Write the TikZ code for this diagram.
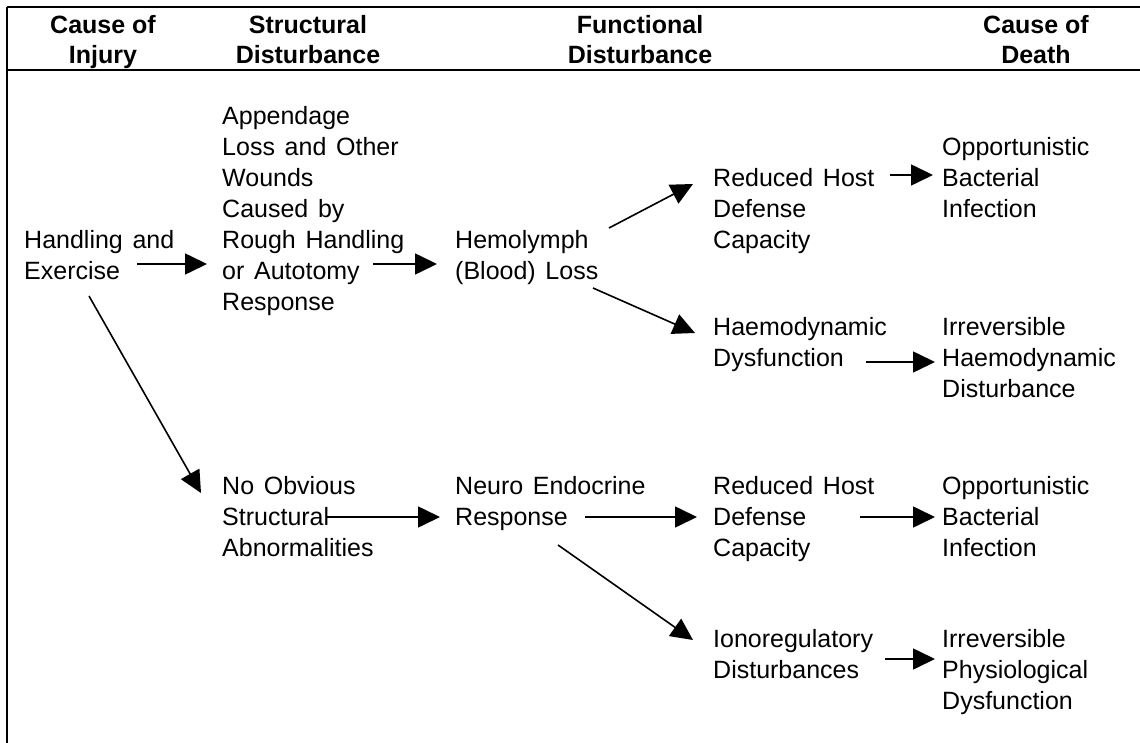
\documentclass[tikz,border=0pt]{standalone}
\usepackage{fontspec}
\setmainfont{Liberation Sans}[WordSpace=1.4]
\newfontfamily\hdrfont{Liberation Sans}
\usetikzlibrary{arrows.meta}
\tikzset{
  txt/.style={anchor=north west, align=left, inner sep=0pt, font=\fontsize{25}{31}\selectfont},
  hdr/.style={anchor=north, align=center, inner sep=0pt, font=\hdrfont\fontsize{25}{30}\selectfont\bfseries},
  arr/.style={line width=1.6pt, -{Triangle[length=22pt,width=21pt]}},
  rule/.style={line width=1.8pt}
}
\begin{document}
\begin{tikzpicture}[x=1pt,y=-1pt]
\useasboundingbox (0,0) rectangle (1140,743);
% frame
\draw[rule] (7,7) -- (1140,7);
\draw[rule] (7,70) -- (1140,70);
\draw[line width=1.4pt] (7,7) -- (7,743);
% headers
\node[hdr] (h1) at (103,15) {Cause of\\Injury};
\node[hdr] (h2) at (308,15) {Structural\\Disturbance};
\node[hdr] (h3) at (640,15) {Functional\\Disturbance};
\node[hdr] (h4) at (1036,15) {Cause of\\Death};
% body
\node[txt] (hand) at (24,230) {Handling and\\Exercise};
\node[txt] (app) at (222,106) {Appendage\\Loss and Other\\Wounds\\Caused by\\Rough Handling\\or Autotomy\\Response};
\node[txt] (hemo) at (455,230) {Hemolymph\\(Blood) Loss};
\node[txt] (rhd1) at (713,168) {Reduced Host\\Defense\\Capacity};
\node[txt] (opp1) at (942,137) {Opportunistic\\Bacterial\\Infection};
\node[txt] (haem) at (713,317) {Haemodynamic\\Dysfunction};
\node[txt] (irr1) at (942,317) {Irreversible\\Haemodynamic\\Disturbance};
\node[txt] (noob) at (222,476) {No Obvious\\Structural\\Abnormalities};
\node[txt] (neuro) at (455,476) {Neuro Endocrine\\Response};
\node[txt] (rhd2) at (713,476) {Reduced Host\\Defense\\Capacity};
\node[txt] (opp2) at (942,476) {Opportunistic\\Bacterial\\Infection};
\node[txt] (iono) at (713,629) {Ionoregulatory\\Disturbances};
\node[txt] (irr2) at (942,629) {Irreversible\\Physiological\\Dysfunction};
% connectors
\draw[arr] ([shift={(113,34)}]hand.north west) -- ([shift={(-15,158)}]app.north west);
\draw[arr] ([shift={(151,158)}]app.north west) -- ([shift={(-18,34)}]hemo.north west);
\draw[arr] ([shift={(154,-2)}]hemo.north west) -- ([shift={(-20,16)}]rhd1.north west);
\draw[arr] ([shift={(138,58)}]hemo.north west) -- ([shift={(-18,16)}]haem.north west);
\draw[arr] ([shift={(177,7)}]rhd1.north west) -- ([shift={(-9,38)}]opp1.north west);
\draw[arr] ([shift={(153,45)}]haem.north west) -- ([shift={(-7,45)}]irr1.north west);
\draw[arr] ([shift={(65,66)}]hand.north west) -- ([shift={(-21,17)}]noob.north west);
\draw[arr] ([shift={(105,41)}]noob.north west) -- ([shift={(-15,41)}]neuro.north west);
\draw[arr] ([shift={(130,41)}]neuro.north west) -- ([shift={(-16,41)}]rhd2.north west);
\draw[arr] ([shift={(147,41)}]rhd2.north west) -- ([shift={(-7,41)}]opp2.north west);
\draw[arr] ([shift={(103,69)}]neuro.north west) -- ([shift={(-20,11)}]iono.north west);
\draw[arr] ([shift={(172,30)}]iono.north west) -- ([shift={(-7,30)}]irr2.north west);
\end{tikzpicture}
\end{document}
